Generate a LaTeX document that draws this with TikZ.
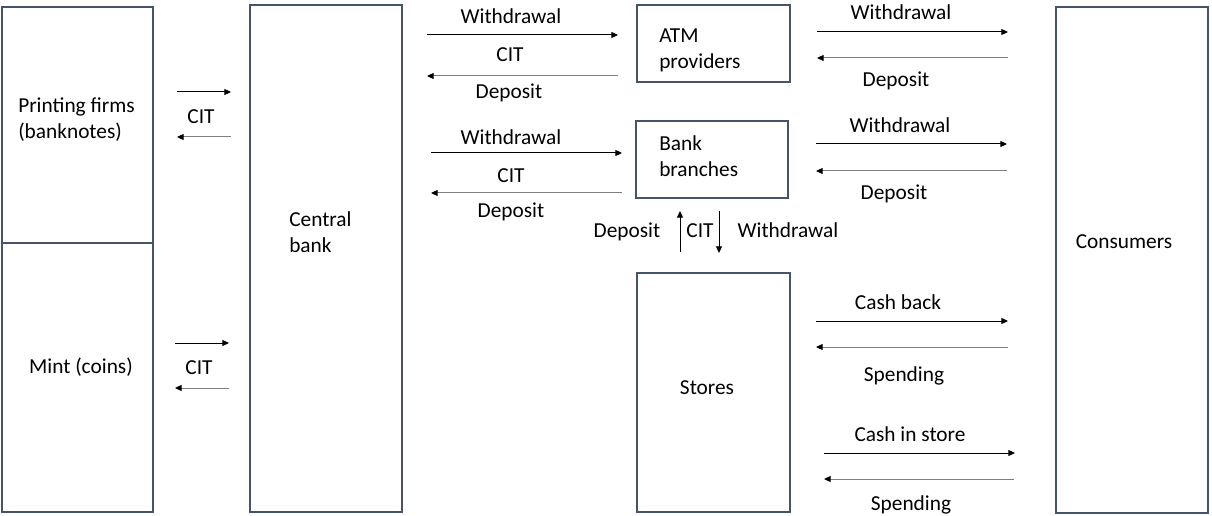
\documentclass[tikz,border=0pt]{standalone}
\usepackage{fontspec}
\setmainfont{Carlito}
\usetikzlibrary{arrows.meta}

\definecolor{boxline}{rgb}{0.27,0.33,0.42}
\definecolor{backline}{rgb}{0.50,0.50,0.50}

\begin{document}
\begin{tikzpicture}[x=0.75pt, y=-0.75pt,
    box/.style={draw=boxline, line width=1pt, inner sep=0pt},
    lbl/.style={inner sep=0pt, font=\fontsize{16}{19.5}\selectfont},
    fwd/.style={black, line width=0.75pt, -{Triangle[length=5pt,width=4.5pt]}},
    back/.style={backline, line width=0.75pt, -{Triangle[length=5pt,width=4.5pt,black]}}]
        \useasboundingbox (0,0) rectangle (1212,516);

        % boxes
        \node[box, minimum width=113.25pt, minimum height=177pt] (pf) at (77.5,125) {};
        \node[box, minimum width=113.25pt, minimum height=201.75pt] (mint) at (77.5,377.5) {};
        \node[box, minimum width=114pt, minimum height=380.25pt] (cb) at (326,258.5) {};
        \node[box, minimum width=114.75pt, minimum height=57.75pt] (atm) at (713.5,43.5) {};
        \node[box, minimum width=114pt, minimum height=57.75pt] (branch) at (712,159.5) {};
        \node[box, minimum width=114.75pt, minimum height=179.25pt] (stores) at (713.5,392.5) {};
        \node[box, minimum width=114pt, minimum height=379.5pt] (cons) at (1132,260) {};

        % box texts (base = last line)
        \node[lbl, anchor=base west, align=left] (pftxt) at (18,139) {Printing firms\\(banknotes)};
        \node[lbl, anchor=base] (minttxt) at (81,373) {Mint (coins)};
        \node[lbl, anchor=base west, align=left] (cbtxt) at (289,253) {Central\\bank};
        \node[lbl, anchor=base west, align=left] (atmtxt) at (659,69) {ATM\\providers};
        \node[lbl, anchor=base west, align=left] (branchtxt) at (659,177) {Bank\\branches};
        \node[lbl, anchor=base] (storestxt) at (707,394) {Stores};
        \node[lbl, anchor=base] (constxt) at (1124,249) {Consumers};

        % arrow ends
        \coordinate (pf1) at (177,92);   \coordinate (pf2) at (231,92);
        \coordinate (pf3) at (231,137);  \coordinate (pf4) at (177,137);
        \coordinate (mt1) at (175,343);  \coordinate (mt2) at (229,343);
        \coordinate (mt3) at (229,388);  \coordinate (mt4) at (175,388);
        \coordinate (ca1) at (427,35);   \coordinate (ca2) at (618,35);
        \coordinate (ca3) at (618,76);   \coordinate (ca4) at (427,76);
        \coordinate (cr1) at (431,153);  \coordinate (cr2) at (622,153);
        \coordinate (cr3) at (622,193);  \coordinate (cr4) at (431,193);
        \coordinate (ac1) at (817,32);   \coordinate (ac2) at (1008,32);
        \coordinate (ac3) at (1008,58);  \coordinate (ac4) at (817,58);
        \coordinate (rc1) at (816,144);  \coordinate (rc2) at (1007,144);
        \coordinate (rc3) at (1007,171); \coordinate (rc4) at (816,171);
        \coordinate (rs1) at (680,252);  \coordinate (rs2) at (680,211);
        \coordinate (rs3) at (719,211);  \coordinate (rs4) at (719,253);
        \coordinate (sc1) at (816,321);  \coordinate (sc2) at (1008,321);
        \coordinate (sc3) at (1008,347); \coordinate (sc4) at (816,347);
        \coordinate (sd1) at (824,453);  \coordinate (sd2) at (1015,453);
        \coordinate (sd3) at (1014,479); \coordinate (sd4) at (824,479);

        % arrows
        \draw[fwd] (pf1) -- (pf2);
        \draw[back] (pf3) -- (pf4);
        \draw[fwd] (mt1) -- (mt2);
        \draw[back] (mt3) -- (mt4);
        \draw[fwd] (ca1) -- (ca2);
        \draw[back] (ca3) -- (ca4);
        \draw[fwd] (cr1) -- (cr2);
        \draw[back] (cr3) -- (cr4);
        \draw[fwd] (ac1) -- (ac2);
        \draw[back] (ac3) -- (ac4);
        \draw[fwd] (rc1) -- (rc2);
        \draw[back] (rc3) -- (rc4);
        \draw[fwd] (rs1) -- (rs2);
        \draw[fwd] (rs3) -- (rs4);
        \draw[fwd] (sc1) -- (sc2);
        \draw[back] (sc3) -- (sc4);
        \draw[fwd] (sd1) -- (sd2);
        \draw[back] (sd3) -- (sd4);

        % arrow labels
        \node[lbl, anchor=base] (pfcit) at (201,124) {CIT};
        \node[lbl, anchor=base] (mtcit) at (199,374) {CIT};
        \node[lbl, anchor=base] (caw) at (511,24) {Withdrawal};
        \node[lbl, anchor=base] (cacit) at (510,62) {CIT};
        \node[lbl, anchor=base] (cad) at (509,99) {Deposit};
        \node[lbl, anchor=base] (crw) at (511,145) {Withdrawal};
        \node[lbl, anchor=base] (crcit) at (511,183) {CIT};
        \node[lbl, anchor=base] (crd) at (511,218) {Deposit};
        \node[lbl, anchor=base] (acw) at (901,20) {Withdrawal};
        \node[lbl, anchor=base] (acd) at (896,87) {Deposit};
        \node[lbl, anchor=base] (rcw) at (900,133) {Withdrawal};
        \node[lbl, anchor=base] (rcd) at (894,200) {Deposit};
        \node[lbl, anchor=base] (rsd) at (627,238) {Deposit};
        \node[lbl, anchor=base] (rscit) at (700,238) {CIT};
        \node[lbl, anchor=base] (rsw) at (788,238) {Withdrawal};
        \node[lbl, anchor=base] (scb) at (898,310) {Cash back};
        \node[lbl, anchor=base] (scs) at (904,381) {Spending};
        \node[lbl, anchor=base] (sdc) at (910,441) {Cash in store};
        \node[lbl, anchor=base] (sds) at (911,510) {Spending};
\end{tikzpicture}
\end{document}
